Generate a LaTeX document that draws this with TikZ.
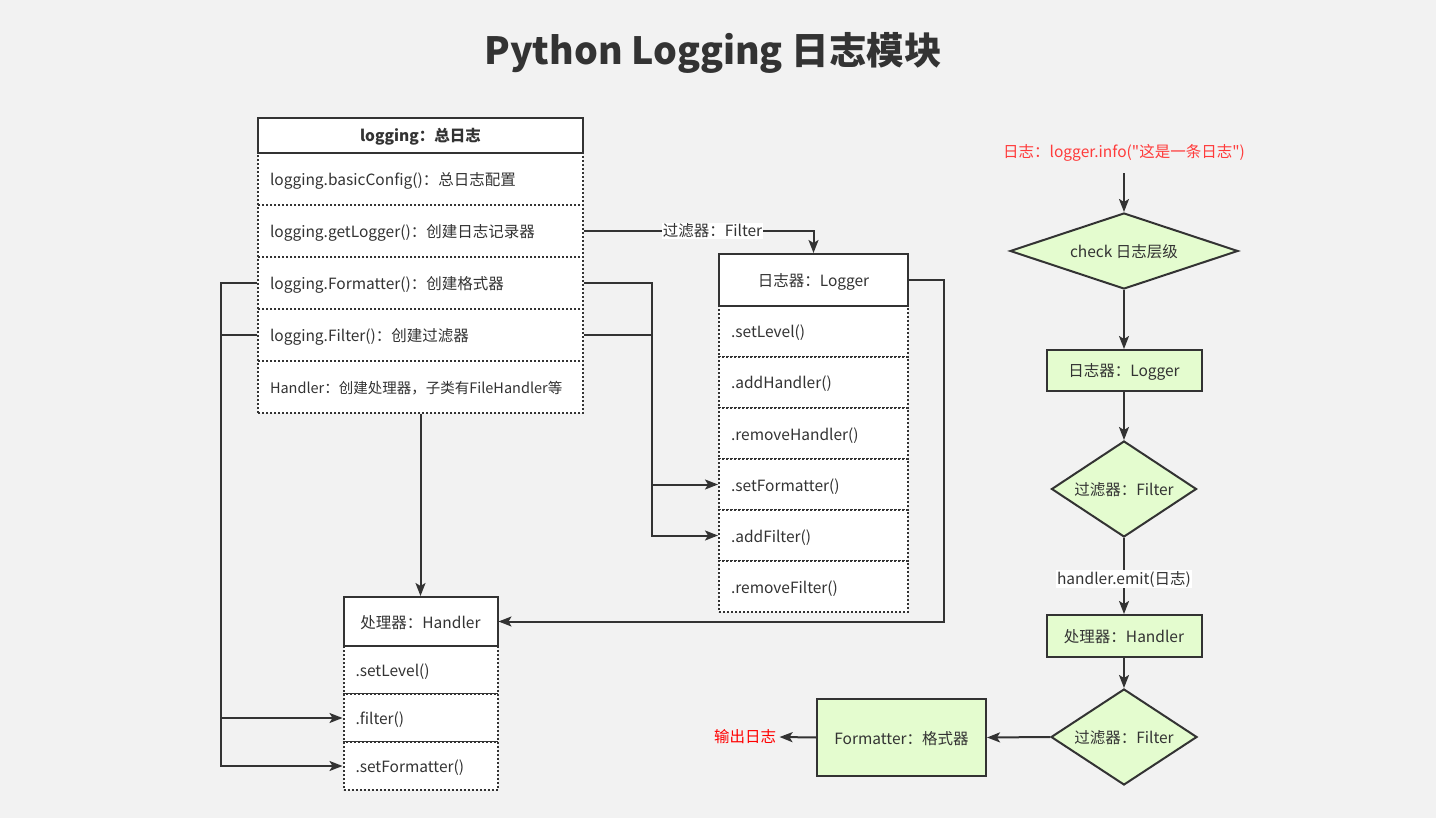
\documentclass[tikz,border=0pt]{standalone}
\usepackage{fontspec}
\setmainfont{Noto Sans CJK SC}[Ligatures=TeXOff]
\usepackage{xcolor}
\usetikzlibrary{arrows.meta,shapes.geometric}

\definecolor{bgc}{HTML}{F2F2F2}
\definecolor{linec}{HTML}{333333}
\definecolor{boxg}{HTML}{E4FCCF}
\definecolor{infored}{HTML}{FF3B3B}

\begin{document}
\begin{tikzpicture}[x=1pt,y=-1pt,
    font=\fontsize{15.5}{18}\selectfont, text=linec,
    head/.style={draw=linec,line width=2pt,fill=white,inner sep=0pt,text height=13pt,text depth=0pt},
    row/.style={draw=linec,line width=2pt,dash pattern=on 2pt off 2pt,
        fill=white,inner xsep=12pt,inner ysep=0pt,align=left,text width=#1,
        text height=13pt,text depth=0pt},
    flow/.style={draw=linec,line width=2pt,fill=boxg,inner sep=0pt,text height=13pt,text depth=0pt},
    dia/.style={flow,diamond,aspect=#1},
    conn/.style={draw=linec,line width=2pt,-{Stealth[length=13pt,width=10pt,inset=3pt]}},
    lbl/.style={fill=white,inner sep=1pt}]
    % Background
    \fill[bgc,use as bounding box] (0,0) rectangle (1436,818);

    % Title
    \node[font=\fontsize{37.5}{42}\selectfont\bfseries] (title) at (713,53) {Python Logging 日志模块};

    % logging box
    \node[row=301,minimum height=52] (lgBasic) at (420.5,179) {logging.basicConfig()：总日志配置};
    \node[row=301,minimum height=52] (lgGet) at (420.5,231) {logging.getLogger()：创建日志记录器};
    \node[row=301,minimum height=52] (lgFmt) at (420.5,283) {logging.Formatter()：创建格式器};
    \node[row=301,minimum height=52] (lgFlt) at (420.5,335) {logging.Filter()：创建过滤器};
    \node[row=301,minimum height=52,font=\fontsize{14.5}{17}\selectfont] (lgHdl) at (420.5,387) {Handler：创建处理器，子类有FileHandler等};
    \node[head,minimum width=325,minimum height=35,font=\fontsize{15.5}{18}\selectfont\bfseries] (lgHead) at (420.5,135.5) {logging：总日志};

    % Logger box
    \node[row=165,minimum height=51] (lrLevel) at (813.5,331.5) {.setLevel()};
    \node[row=165,minimum height=51] (lrAddHdl) at (813.5,382.5) {.addHandler()};
    \node[row=165,minimum height=51] (lrRmHdl) at (813.5,433.5) {.removeHandler()};
    \node[row=165,minimum height=51] (lrSetFmt) at (813.5,484.5) {.setFormatter()};
    \node[row=165,minimum height=51] (lrAddFlt) at (813.5,535.5) {.addFilter()};
    \node[row=165,minimum height=51] (lrRmFlt) at (813.5,586.5) {.removeFilter()};
    \node[head,minimum width=189,minimum height=52] (lrHead) at (813.5,280) {日志器：Logger};

    % Handler box
    \node[row=130,minimum height=48] (hdLevel) at (420.5,670) {.setLevel()};
    \node[row=130,minimum height=48] (hdFlt) at (420.5,718) {.filter()};
    \node[row=130,minimum height=48] (hdSetFmt) at (420.5,766) {.setFormatter()};
    \node[head,minimum width=154,minimum height=49] (hdHead) at (420.5,621.5) {处理器：Handler};

    % Links between the boxes
    \draw[conn] (lgGet.east) -| node[lbl,pos=0.28] {过滤器：Filter} (lrHead.north);
    \draw[conn] (lgFmt.east) -- ++(68,0) |- (lrSetFmt.west);
    \draw[conn] (lgFlt.east) -- ++(68,0) |- (lrAddFlt.west);
    \draw[conn] (lrHead.east) -- ++(35,0) |- (hdHead.east);
    \draw[conn] (lgHdl.south) -- (hdHead.north);
    \draw[conn] (lgFmt.west) -- ++(-36,0) |- (hdSetFmt.west);
    \draw[conn] (lgFlt.west) -- ++(-36,0) |- (hdFlt.west);

    % Flow of one log record
    \node[text=infored] (info) at (1124,153) {日志：logger.info("这是一条日志")};
    \node[dia=3,minimum width=228,minimum height=76] (chk) at (1124,251) {check 日志层级};
    \node[flow,minimum width=155,minimum height=41] (fLogger) at (1124,370.5) {日志器：Logger};
    \node[dia=1.5,minimum width=145,minimum height=96] (fFlt1) at (1124,489) {过滤器：Filter};
    \node[flow,minimum width=155,minimum height=42] (fHandler) at (1124,636) {处理器：Handler};
    \node[dia=1.5,minimum width=146,minimum height=96] (fFlt2) at (1124,737) {过滤器：Filter};
    \node[flow,minimum width=169,minimum height=77] (fFmt) at (901.5,737.5) {Formatter：格式器};
    \node[text=red] (out) at (745,737) {输出日志};

    \draw[conn,shorten <=8pt] (info.south) -- (chk.north);
    \draw[conn] (chk.south) -- (fLogger.north);
    \draw[conn] (fLogger.south) -- (fFlt1.north);
    \draw[conn] (fFlt1.south) -- node[lbl,pos=0.54] {handler.emit(日志)} (fHandler.north);
    \draw[conn] (fHandler.south) -- (fFlt2.north);
    \draw[conn] (fFlt2.west) -- (fFmt.east);
    \draw[conn] (fFmt.west) -- (out.east);
\end{tikzpicture}
\end{document}
